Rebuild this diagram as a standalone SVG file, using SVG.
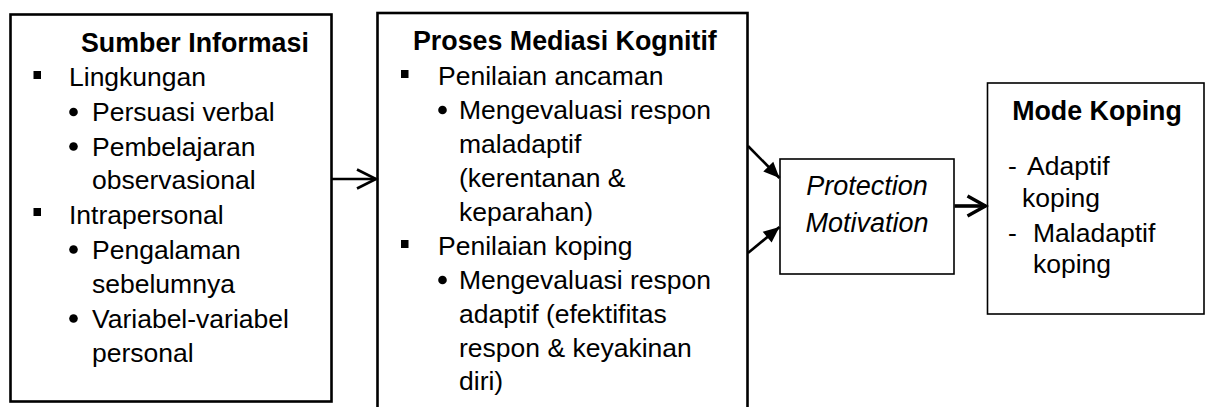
<svg xmlns="http://www.w3.org/2000/svg" width="1206" height="407" viewBox="0 0 1206 407">
  <style>
    .box { fill: #ffffff; stroke: #000000; }
    .thick { stroke-width: 2.6; }
    .thin { stroke-width: 1.6; }
    text { font-family: "Liberation Sans", Arial, sans-serif; font-size: 26.5px; fill: #000000; }
    .title { font-weight: bold; font-size: 26.8px; }
    .mid { text-anchor: middle; }
    .ital { font-style: italic; font-size: 27px; }
    .sq { fill: #000000; }
    .dot { fill: #000000; }
    .link { fill: none; stroke: #000000; }
  </style>
  <defs>
    <marker id="solid" markerUnits="userSpaceOnUse" markerWidth="17" markerHeight="14" refX="16" refY="7" orient="auto" overflow="visible">
      <path d="M0,0 L16,7 L0,14 z" fill="#000000"/>
    </marker>
    <marker id="chevron" markerUnits="userSpaceOnUse" markerWidth="22" markerHeight="22" refX="19" refY="10" orient="auto" overflow="visible">
      <path d="M0,0.5 L19,10 L0,19.5" fill="none" stroke="#000000" stroke-width="2.6"/>
    </marker>
    <marker id="chevronBold" markerUnits="userSpaceOnUse" markerWidth="22" markerHeight="22" refX="18" refY="10" orient="auto" overflow="visible">
      <path d="M0,0 L18,10 L0,20" fill="none" stroke="#000000" stroke-width="3.4"/>
    </marker>
  </defs>

  <!-- Sources of information -->
  <g id="sumber-informasi">
    <rect class="box thick" x="10.5" y="14.5" width="321" height="387"/>
    <text class="title" x="81" y="52">Sumber Informasi</text>
    <rect class="sq" x="33.5" y="71" width="7.5" height="8"/>
    <text x="69" y="86">Lingkungan</text>
    <circle class="dot" cx="73.5" cy="112" r="4.3"/>
    <text x="92" y="121">Persuasi verbal</text>
    <circle class="dot" cx="73.5" cy="146.5" r="4.3"/>
    <text x="92" y="156">Pembelajaran</text>
    <text x="92" y="189">observasional</text>
    <rect class="sq" x="33.5" y="208" width="7.5" height="8"/>
    <text x="69" y="224">Intrapersonal</text>
    <circle class="dot" cx="73.5" cy="249.5" r="4.3"/>
    <text x="92" y="259">Pengalaman</text>
    <text x="92" y="293">sebelumnya</text>
    <circle class="dot" cx="73.5" cy="318.5" r="4.3"/>
    <text x="92" y="328">Variabel-variabel</text>
    <text x="92" y="362">personal</text>
  </g>

  <!-- Cognitive mediation process -->
  <g id="proses-mediasi">
    <rect class="box thick" x="377.5" y="13" width="370" height="410"/>
    <text class="title" x="413" y="50">Proses Mediasi Kognitif</text>
    <rect class="sq" x="401" y="70" width="7.5" height="8"/>
    <text x="438" y="85">Penilaian ancaman</text>
    <circle class="dot" cx="442.5" cy="110" r="4.3"/>
    <text x="459" y="119">Mengevaluasi respon</text>
    <text x="459" y="153">maladaptif</text>
    <text x="459" y="187">(kerentanan &amp;</text>
    <text x="459" y="221">keparahan)</text>
    <rect class="sq" x="401" y="240" width="7.5" height="8"/>
    <text x="438" y="255">Penilaian koping</text>
    <circle class="dot" cx="442.5" cy="280" r="4.3"/>
    <text x="459" y="289">Mengevaluasi respon</text>
    <text x="459" y="323">adaptif (efektifitas</text>
    <text x="459" y="357">respon &amp; keyakinan</text>
    <text x="459" y="390">diri)</text>
  </g>

  <!-- Protection motivation -->
  <g id="protection-motivation">
    <rect class="box thin" x="780" y="159" width="174" height="115"/>
    <text class="ital mid" x="867" y="195">Protection</text>
    <text class="ital mid" x="867" y="232">Motivation</text>
  </g>

  <!-- Coping modes -->
  <g id="mode-koping">
    <rect class="box thin" x="987.5" y="83" width="216.5" height="231"/>
    <text class="title mid" x="1097" y="120">Mode Koping</text>
    <text x="1008" y="175">-<tspan x="1027">Adaptif</tspan></text>
    <text x="1022" y="207">koping</text>
    <text x="1008" y="242">-<tspan x="1033">Maladaptif</tspan></text>
    <text x="1033" y="273">koping</text>
  </g>

  <!-- Connectors -->
  <g id="connectors">
    <line class="link" x1="332" y1="179" x2="376" y2="179" stroke-width="2.6" marker-end="url(#chevron)"/>
    <line class="link" x1="748" y1="146" x2="779.5" y2="178" stroke-width="2.6" marker-end="url(#solid)"/>
    <line class="link" x1="748" y1="253" x2="779.5" y2="227" stroke-width="2.6" marker-end="url(#solid)"/>
    <line class="link" x1="954.5" y1="206" x2="985.5" y2="206" stroke-width="3.6" marker-end="url(#chevronBold)"/>
  </g>
</svg>
